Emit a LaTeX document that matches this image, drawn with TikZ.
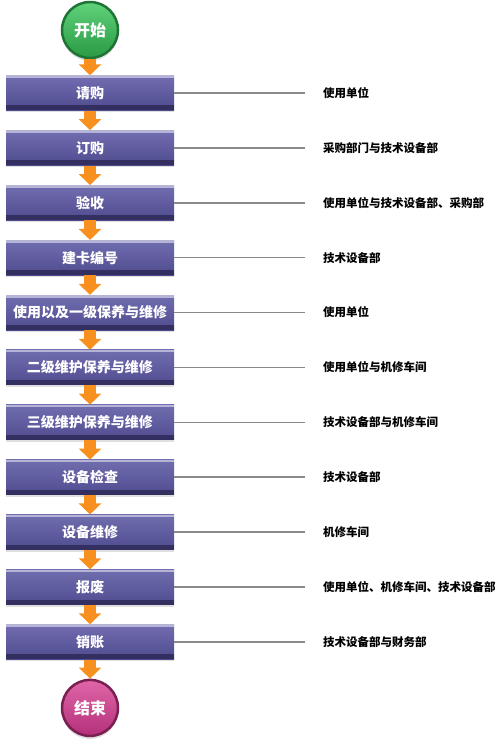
\documentclass[tikz,border=0pt]{standalone}
\usepackage{fontspec}
\newfontfamily\cjk{Noto Sans CJK SC}
\usetikzlibrary{positioning, arrows.meta, shadows}

\definecolor{boxtop}{HTML}{716EB0}
\definecolor{boxbot}{HTML}{4F4B8F}
\definecolor{boxrim}{HTML}{B5B3D6}
\definecolor{boxdark}{HTML}{332F60}
\definecolor{flow}{HTML}{F7901E}
\definecolor{link}{HTML}{8A8A8A}
\definecolor{gotop}{HTML}{5FD27A}
\definecolor{gobot}{HTML}{2A9A45}
\definecolor{gorim}{HTML}{1E7434}
\definecolor{endtop}{HTML}{E066A8}
\definecolor{endbot}{HTML}{B4307A}
\definecolor{endrim}{HTML}{7A1F52}

\begin{document}
\begin{tikzpicture}[x=1pt, y=-1pt, node distance=19.5pt]
\tikzstyle{every node}=[font=\cjk\bfseries]
\tikzstyle{stepbox}=[rectangle, minimum width=168pt, minimum height=35pt, inner sep=0pt,
    top color=boxtop, bottom color=boxbot, text=white,
    font=\cjk\bfseries\fontsize{14}{14}\selectfont,
    drop shadow={opacity=0.25, shadow xshift=0pt, shadow yshift=-2pt},
    path picture={\fill[boxdark] (path picture bounding box.south west) rectangle ([yshift=5pt]path picture bounding box.south east);
        \fill[boxrim] (path picture bounding box.north west) rectangle ([yshift=-2.5pt]path picture bounding box.north east);}]
\tikzstyle{ends}=[circle, minimum size=56pt, inner sep=0pt, line width=2.5pt, text=white,
    font=\cjk\bfseries\fontsize{16}{16}\selectfont,
    drop shadow={opacity=0.25, shadow xshift=0pt, shadow yshift=-3pt}]
\tikzstyle{who}=[anchor=west, inner sep=0pt, text=black, font=\cjk\bfseries\fontsize{11.5}{11.5}\selectfont]
\tikzstyle{flowarrow}=[draw=flow, line width=12pt, -{Triangle[width=22pt, length=11pt]}]
\tikzstyle{linkline}=[draw=link, line width=1.6pt]

\useasboundingbox (0,0) rectangle (500,744);

% start and steps
\node[ends, top color=gotop, bottom color=gobot, draw=gorim] at (90,30) (start) {开始};
\node[stepbox, below=16pt of start] (qg) {请购};
\node[stepbox, below=of qg] (dg) {订购};
\node[stepbox, below=of dg] (ys) {验收};
\node[stepbox, below=of ys] (jk) {建卡编号};
\node[stepbox, below=of jk] (yj) {使用以及一级保养与维修};
\node[stepbox, below=of yj] (ej) {二级维护保养与维修};
\node[stepbox, below=of ej] (sj) {三级维护保养与维修};
\node[stepbox, below=of sj] (jc) {设备检查};
\node[stepbox, below=of jc] (wx) {设备维修};
\node[stepbox, below=of wx] (bf) {报废};
\node[stepbox, below=of bf] (xz) {销账};
\node[ends, top color=endtop, bottom color=endbot, draw=endrim, below=19pt of xz] (stop) {结束};

% who is in charge
\node[who] at (323,0 |- qg) (wqg) {使用单位};
\node[who] at (323,0 |- dg) (wdg) {采购部门与技术设备部};
\node[who] at (323,0 |- ys) (wys) {使用单位与技术设备部、采购部};
\node[who] at (323,0 |- jk) (wjk) {技术设备部};
\node[who] at (323,0 |- yj) (wyj) {使用单位};
\node[who] at (323,0 |- ej) (wej) {使用单位与机修车间};
\node[who] at (323,0 |- sj) (wsj) {技术设备部与机修车间};
\node[who] at (323,0 |- jc) (wjc) {技术设备部};
\node[who] at (323,0 |- wx) (wwx) {机修车间};
\node[who] at (323,0 |- bf) (wbf) {使用单位、机修车间、技术设备部};
\node[who] at (323,0 |- xz) (wxz) {技术设备部与财务部};

\draw[flowarrow] (start) -- (qg);
\draw[flowarrow] (qg) -- (dg);
\draw[flowarrow] (dg) -- (ys);
\draw[flowarrow] (ys) -- (jk);
\draw[flowarrow] (jk) -- (yj);
\draw[flowarrow] (yj) -- (ej);
\draw[flowarrow] (ej) -- (sj);
\draw[flowarrow] (sj) -- (jc);
\draw[flowarrow] (jc) -- (wx);
\draw[flowarrow] (wx) -- (bf);
\draw[flowarrow] (bf) -- (xz);
\draw[flowarrow] (xz) -- (stop);

\draw[linkline] (qg.east) -- ([xshift=-18pt]wqg.west);
\draw[linkline] (dg.east) -- ([xshift=-18pt]wdg.west);
\draw[linkline] (ys.east) -- ([xshift=-18pt]wys.west);
\draw[linkline] (jk.east) -- ([xshift=-18pt]wjk.west);
\draw[linkline] (yj.east) -- ([xshift=-18pt]wyj.west);
\draw[linkline] (ej.east) -- ([xshift=-18pt]wej.west);
\draw[linkline] (sj.east) -- ([xshift=-18pt]wsj.west);
\draw[linkline] (jc.east) -- ([xshift=-18pt]wjc.west);
\draw[linkline] (wx.east) -- ([xshift=-18pt]wwx.west);
\draw[linkline] (bf.east) -- ([xshift=-18pt]wbf.west);
\draw[linkline] (xz.east) -- ([xshift=-18pt]wxz.west);
\end{tikzpicture}
\end{document}
